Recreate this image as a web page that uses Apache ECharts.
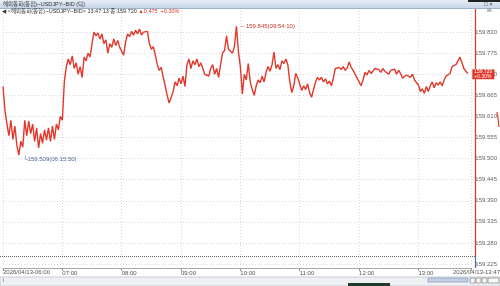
<!DOCTYPE html>
<html><head><meta charset="utf-8">
<script src="https://cdn.jsdelivr.net/npm/echarts@6/dist/echarts.min.js"></script>
<style>html,body{margin:0;padding:0;background:#fff}#c{width:500px;height:286px}</style>
</head><body><div id="c"></div>
<script>
// minutes after 06:00, one point every 2 minutes
const stepMin = 2;
const prices = [
159.688,159.625,159.590,159.560,159.600,159.550,159.585,159.535,159.509,159.545,
159.530,159.600,159.560,159.598,159.565,159.590,159.545,159.580,159.528,159.565,
159.540,159.575,159.548,159.580,159.545,159.585,159.550,159.590,159.575,159.610,
159.600,159.700,159.740,159.760,159.745,159.768,159.735,159.750,159.720,159.740,
159.712,159.765,159.755,159.775,159.765,159.800,159.830,159.820,159.828,159.812,
159.825,159.800,159.810,159.775,159.800,159.790,159.812,159.795,159.808,159.790,
159.785,159.770,159.805,159.825,159.818,159.832,159.822,159.835,159.825,159.838,
159.822,159.830,159.826,159.832,159.800,159.785,159.792,159.770,159.745,159.730,
159.738,159.712,159.690,159.665,159.645,159.660,159.675,159.700,159.690,159.710,
159.695,159.715,159.688,159.745,159.760,159.735,159.755,159.745,159.760,159.740,
159.750,159.735,159.720,159.725,159.715,159.735,159.745,159.720,159.735,159.712,
159.745,159.775,159.782,159.820,159.785,159.790,159.775,159.792,159.845,159.780,
159.740,159.668,159.720,159.705,159.748,159.700,159.680,159.665,159.690,159.705,
159.698,159.715,159.700,159.725,159.740,159.728,159.745,159.778,159.735,159.745,
159.732,159.755,159.748,159.760,159.745,159.700,159.672,159.690,159.722,159.710,
159.695,159.678,159.690,159.680,159.695,159.672,159.660,159.655,159.700,159.712,
159.705,159.712,159.700,159.708,159.695,159.702,159.690,159.710,159.735,159.730,
159.738,159.732,159.740,159.730,159.736,159.752,159.738,159.730,159.720,159.725,
159.700,159.690,159.705,159.725,159.718,159.730,159.722,159.728,159.735,159.740,
159.732,159.725,159.735,159.728,159.732,159.720,159.730,159.725,159.733,159.720,
159.730,159.722,159.710,159.705,159.718,159.722,159.712,159.720,159.705,159.700,
159.692,159.675,159.682,159.670,159.688,159.675,159.690,159.700,159.685,159.698,
159.692,159.700,159.690,159.705,159.715,159.710,159.722,159.740,159.735,159.745,
159.755,159.765,159.750,159.735,159.728,159.722
];
const hourLabels = ['06:00','07:00','08:00','09:00','10:00','11:00','12:00','13:00'];
const xEdgeLabels = ['2026/04/13-06:00','2026/04/13-13:47'];
const yMin = 159.225, yMax = 159.885, yStep = 0.055;
const minNote = {price:159.509, time:'06:15:50'};
const maxNote = {price:159.845, time:'09:54:10'};
const lastPrice = 159.720, lastTime = '13:47:13', change = 0.475, changePct = '+0.30%';
const title = '해외통화(통합)--USDJPY--BID (틱)';

const data = prices.map((p,i)=>[i*stepMin, p]);
const RED = '#e2372a';
const F = 'Liberation Sans, DejaVu Sans, Noto Sans CJK KR, sans-serif';

const chart = echarts.init(document.getElementById('c'), null, {renderer:'canvas'});
chart.setOption({
  animation:false,
  backgroundColor:'#ffffff',
  grid:{left:1, right:24, top:11, bottom:22, containLabel:false},
  xAxis:{
    type:'value', min:0, max:473.5, interval:60,
    offset:4,
    axisLine:{show:true, onZero:false, lineStyle:{color:'#a8a8a8', width:1}},
    axisTick:{show:true, length:3, lineStyle:{color:'#999'}},
    splitLine:{show:true, lineStyle:{color:'#d8d8d8', type:[1,2], width:1}},
    axisLabel:{fontSize:6, fontFamily:F, color:'#555', margin:2, align:'left',
      formatter:v=>{const i=Math.round(v/60); return (i>0 && i<hourLabels.length)?hourLabels[i]:'';}}
  },
  yAxis:{
    type:'value', position:'right', min:yMin, max:yMax, interval:yStep, scale:true,
    axisLine:{show:false, onZero:false},
    axisTick:{show:false},
    splitLine:{show:true, showMaxLine:false, lineStyle:{color:'#d8d8d8', type:[1,2], width:1}},
    axisLabel:{fontSize:6, fontFamily:F, color:'#666', margin:4, showMaxLabel:false,
      formatter:v=>v.toFixed(3)}
  },
  series:[{
    type:'line', data:data, showSymbol:false, symbol:'none',
    lineStyle:{color:RED, width:1.4}, z:3,
    markPoint:{
      symbol:'rect', symbolSize:1, itemStyle:{color:'rgba(0,0,0,0)'},
      data:[
        {type:'min', label:{show:true, position:'right', offset:[-1,4], color:'#4d6a96', fontSize:6, fontFamily:F,
          formatter:()=>'└'+minNote.price.toFixed(3)+'('+minNote.time+')'}},
        {type:'max', label:{show:true, position:'right', offset:[-1,0], color:'#c0392b', fontSize:6, fontFamily:F,
          formatter:()=>'– '+maxNote.price.toFixed(3)+'('+maxNote.time+')'}}
      ]
    },
    markLine:{
      silent:true, symbol:'none', lineStyle:{color:'rgba(0,0,0,0)', width:0},
      data:[{yAxis:lastPrice}],
      label:{show:true, position:'end', distance:1, backgroundColor:RED, color:'#fff',
        fontSize:5, fontFamily:F, lineHeight:5, padding:[0,2,0,2],
        formatter:()=>lastPrice.toFixed(3)+'\n'+changePct}
    }
  }],
  graphic:[
    {type:'line', shape:{x1:475.5,y1:9,x2:475.5,y2:256}, style:{stroke:RED, lineWidth:1.2}, z:1},
    {type:'line', shape:{x1:475.5,y1:256,x2:475.5,y2:268}, style:{stroke:'#4a6fa5', lineWidth:1.2}, z:1},
    {type:'rect', shape:{x:0,y:0,width:500,height:8}, style:{fill:new echarts.graphic.LinearGradient(0,0,0,1,[{offset:0,color:'#e6edf6'},{offset:1,color:'#c9d6e8'}])}, z:10},
    {type:'rect', shape:{x:468,y:0,width:32,height:2}, style:{fill:'#222'}, z:11},
    {type:'line', shape:{x1:0,y1:8.5,x2:500,y2:8.5}, style:{stroke:'#9fb2cc', lineWidth:1}, z:11},
    {type:'text', x:3, y:4, style:{text:title, font:'5.5px '+F, fill:'#333', textVerticalAlign:'middle'}, z:12},
    {type:'text', x:484, y:4, style:{text:'□ ×', font:'6px '+F, fill:'#333', textVerticalAlign:'middle'}, z:12},
    {type:'text', x:487, y:11, style:{text:'⊞-', font:'5px '+F, fill:'#777', textVerticalAlign:'middle'}, z:12},
    {type:'text', x:2, y:11.5, style:{
      text:'{a|◀ <'+title.replace(' (틱)','')+'> '+lastTime+' 종:'+lastPrice.toFixed(3)+' }{r|▲'+change.toFixed(3)+'  '+changePct+'}',
      textVerticalAlign:'middle',
      rich:{a:{fontSize:5.5, fontFamily:F, fill:'#333'}, r:{fontSize:5.5, fontFamily:F, fill:RED}}}, z:12},
    {type:'line', shape:{x1:0,y1:256.5,x2:475,y2:256.5}, style:{stroke:'#666', lineWidth:1, lineDash:[1,1]}, z:2},
    {type:'text', x:3, y:272, style:{text:xEdgeLabels[0], font:'6px '+F, fill:'#555', textVerticalAlign:'middle'}, z:5},
    {type:'text', x:500, y:272, style:{text:xEdgeLabels[1], font:'6px '+F, fill:'#555', textAlign:'right', textVerticalAlign:'middle'}, z:5},
    {type:'rect', shape:{x:0,y:277,width:500,height:9}, style:{fill:'#eef0f3', stroke:'#c8ccd2', lineWidth:1}, z:5},
    {type:'line', shape:{x1:3.5,y1:278,x2:3.5,y2:282}, style:{stroke:'#aaa', lineWidth:1}, z:6},
    {type:'rect', shape:{x:428,y:278,width:40,height:4}, style:{fill:'#c4cfe0', stroke:'#8fa3c4', lineWidth:0.8}, z:6},
    {type:'rect', shape:{x:470,y:278,width:5,height:5}, style:{fill:'#f7f7f7', stroke:'#777', lineWidth:0.6}, z:6},
    {type:'rect', shape:{x:476,y:278,width:5,height:5}, style:{fill:'#f7f7f7', stroke:'#777', lineWidth:0.6}, z:6},
    {type:'rect', shape:{x:482,y:278,width:5,height:5}, style:{fill:'#f7f7f7', stroke:'#777', lineWidth:0.6}, z:6},
    {type:'rect', shape:{x:488,y:278,width:11,height:5}, style:{fill:'#f7f7f7', stroke:'#777', lineWidth:0.6}, z:6},
    {type:'rect', shape:{x:348,y:283,width:42,height:3}, style:{fill:'#1f3a2a'}, z:7},
    {type:'polyline', shape:{points:[[497,112],[498,118],[499,127]]}, style:{stroke:RED, lineWidth:1.2, fill:null}, z:6}
  ]
});
</script></body></html>
